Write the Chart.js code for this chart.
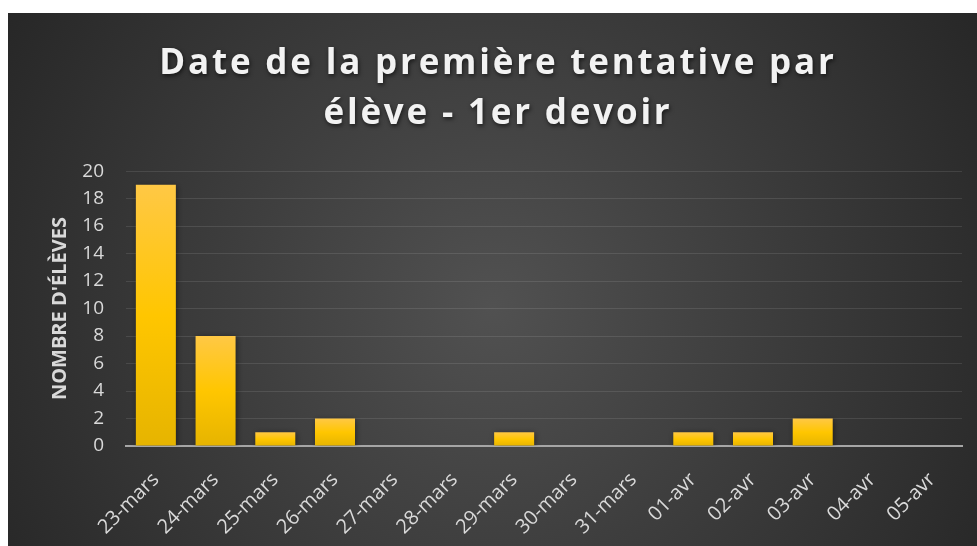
<!DOCTYPE html>
<html>
<head>
<meta charset="utf-8">
<script src="https://cdn.jsdelivr.net/npm/chart.js@4.4.1/dist/chart.umd.min.js"></script>
<style>
html,body{margin:0;padding:0;background:#fff;}
#wrap{position:absolute;left:8px;top:13px;width:969px;height:533px;}
</style>
</head>
<body>
<div id="wrap"><canvas id="c" width="969" height="533"></canvas></div>
<script>
const categories = ["23-mars","24-mars","25-mars","26-mars","27-mars","28-mars","29-mars","30-mars","31-mars","01-avr","02-avr","03-avr","04-avr","05-avr"];
const values = [19, 8, 1, 2, 0, 0, 1, 0, 0, 1, 1, 2, 0, 0];
const titleLines = ["Date de la première tentative par", "élève - 1er devoir"];
const yAxisTitle = "NOMBRE D'ÉLÈVES";

const bgPlugin = {
  id: 'bg',
  beforeDraw(chart) {
    const {ctx, width, height} = chart;
    ctx.save();
    const g = ctx.createRadialGradient(width*0.5, height*0.55, 0, width*0.5, height*0.55, width*0.6);
    g.addColorStop(0, '#515151');
    g.addColorStop(1, '#262626');
    ctx.fillStyle = g;
    ctx.fillRect(0, 0, width, height);
    ctx.restore();
  },
  afterInit(chart) {
    const tb = chart.titleBlock;
    if (tb) {
      const orig = tb.draw;
      tb.draw = function() {
        const ctx = chart.ctx;
        ctx.save();
        ctx.letterSpacing = '2.8px';
        ctx.shadowColor = 'rgba(0,0,0,0.6)';
        ctx.shadowBlur = 4;
        ctx.shadowOffsetX = 1;
        ctx.shadowOffsetY = 2;
        ctx.translate(-5, 0);
        orig.apply(this, arguments);
        ctx.restore();
      };
    }
  },
  beforeDatasetsDraw(chart) {
    const ctx = chart.ctx;
    ctx.save();
    ctx.shadowColor = 'rgba(0,0,0,0.45)';
    ctx.shadowBlur = 6;
    ctx.shadowOffsetX = 1;
    ctx.shadowOffsetY = 1;
  },
  afterDatasetsDraw(chart) {
    chart.ctx.restore();
  }
};

function barGradient(context) {
  const chart = context.chart;
  if (!chart.chartArea || context.raw === undefined) return '#ffc000';
  const y = chart.scales.y;
  const top = y.getPixelForValue(context.raw);
  const base = y.getPixelForValue(0);
  if (!isFinite(top) || top === base) return '#ffc000';
  const g = chart.ctx.createLinearGradient(0, top, 0, base);
  g.addColorStop(0, '#ffc845');
  g.addColorStop(0.5, '#ffc600');
  g.addColorStop(1, '#e6b400');
  return g;
}

new Chart(document.getElementById('c'), {
  type: 'bar',
  data: {
    labels: categories,
    datasets: [{
      data: values,
      backgroundColor: barGradient,
      borderWidth: 0,
      barPercentage: 0.67,
      categoryPercentage: 1.0
    }]
  },
  plugins: [bgPlugin],
  options: {
    responsive: false,
    animation: false,
    layout: { padding: { left: 36, right: 15, top: 0, bottom: 0 } },
    plugins: {
      legend: { display: false },
      tooltip: { enabled: false },
      title: {
        display: true,
        text: titleLines,
        color: '#f2f2f2',
        font: { family: "'Open Sans'", size: 35, weight: 'bold', lineHeight: 1.43 },
        padding: { top: 26, bottom: 32 }
      }
    },
    scales: {
      x: {
        grid: { display: false, drawTicks: false },
        border: { display: true, color: '#a6a6a6', width: 2 },
        ticks: {
          color: '#d9d9d9',
          font: { family: "'Open Sans'", size: 20 },
          maxRotation: 45, minRotation: 45,
          autoSkip: false,
          padding: 22
        },
        afterFit(scale) { scale.height = 100; }
      },
      y: {
        min: 0, max: 20,
        grid: { color: 'rgba(255,255,255,0.1)', lineWidth: 1, drawTicks: false },
        border: { display: false },
        ticks: {
          stepSize: 2,
          color: '#d9d9d9',
          font: { family: "'Open Sans'", size: 19 },
          padding: 22
        },
        title: {
          display: true,
          text: yAxisTitle,
          color: '#d9d9d9',
          font: { family: "'Open Sans'", size: 20, weight: 'bold' },
          padding: 4
        },
        afterFit(scale) { scale.width = 82; }
      }
    }
  }
});
</script>
</body>
</html>
